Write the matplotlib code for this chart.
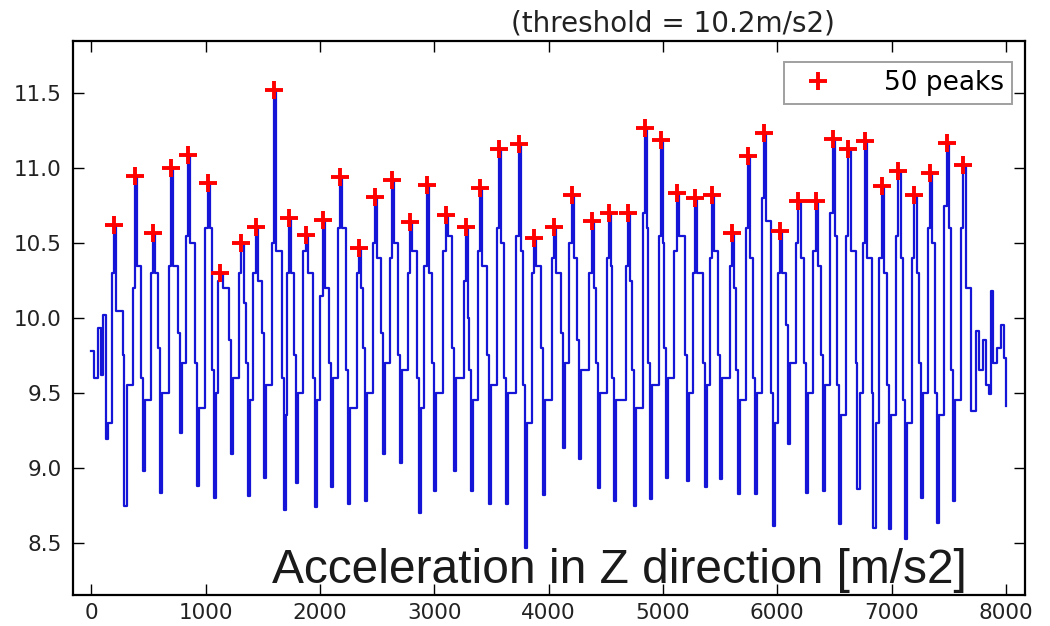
import numpy as np
import matplotlib
matplotlib.use("Agg")
import matplotlib.pyplot as plt

# detected peaks (sample index, m/s2)
peak_x = [199, 381, 541, 696, 847, 1017, 1130, 1314, 1439, 1597,
          1731, 1874, 2023, 2174, 2341, 2481, 2632, 2787, 2933, 3099,
          3277, 3399, 3568, 3738, 3871, 4046, 4201, 4376, 4528, 4696,
          4843, 4983, 5120, 5280, 5431, 5606, 5746, 5884, 6024, 6184,
          6336, 6485, 6621, 6767, 6913, 7059, 7199, 7336, 7482, 7627]
peak_y = [10.62, 10.95, 10.565, 11.00, 11.09, 10.90, 10.30, 10.50, 10.61, 11.52,
          10.67, 10.555, 10.655, 10.94, 10.47, 10.805, 10.92, 10.64, 10.885, 10.685,
          10.61, 10.87, 11.13, 11.16, 10.535, 10.61, 10.82, 10.645, 10.70, 10.70,
          11.27, 11.19, 10.835, 10.80, 10.82, 10.565, 11.085, 11.235, 10.58, 10.78,
          10.78, 11.195, 11.13, 11.18, 10.88, 10.98, 10.82, 10.97, 11.17, 11.02]

# level right after each peak
fall_y = [10.05, 10.35, 10.30, 10.35, 10.50, 10.60, 10.20, 10.10, 10.25, 10.45,
          10.30, 10.30, 10.20, 10.60, 10.20, 10.40, 10.50, 10.45, 10.30, 10.55,
          10.00, 10.35, 10.50, 10.45, 10.35, 10.30, 10.40, 10.20, 10.35, 10.25,
          10.60, 10.50, 10.55, 10.30, 10.45, 10.20, 10.40, 10.65, 10.30, 10.40,
          10.35, 10.55, 10.45, 10.40, 10.30, 10.40, 10.30, 10.50, 10.60, 10.20]

# second step on the way down, just before each minimum
mid_y = [9.75, 9.60, 9.80, 9.90, 9.70, 9.65, 9.85, 9.70, 9.90, 9.60,
         9.75, 9.60, 9.70, 9.65, 9.80, 9.90, 9.75, 9.60, 9.70, 9.80,
         9.65, 9.75, 9.60, 9.55, 9.80, 9.90, 9.85, 9.70, 9.60, 9.65,
         9.70, 9.80, 9.75, 9.70, 9.75, 9.65, 9.60, 9.50, 9.95, 9.70,
         9.75, 9.55, 9.70, 9.50, 9.55, 9.45, 9.70, 9.50, 9.65]

# minima between peaks (first one is before the first peak)
trough_x = [127, 290, 451, 597, 772, 923, 1072, 1218, 1369, 1509,
            1682, 1789, 1958, 2095, 2244, 2390, 2550, 2700, 2863, 2994,
            3169, 3320, 3480, 3627, 3793, 3947, 4122, 4262, 4429, 4574,
            4749, 4886, 5026, 5207, 5368, 5499, 5653, 5805, 5960, 6096,
            6251, 6397, 6540, 6700, 6840, 6977, 7117, 7255, 7395, 7537]
trough_y = [9.19, 8.745, 8.98, 8.83, 9.23, 8.88, 8.80, 9.09, 8.81, 8.93,
            8.72, 8.90, 8.74, 8.87, 8.76, 8.78, 9.09, 9.03, 8.70, 8.845,
            8.98, 8.845, 8.76, 8.76, 8.465, 8.82, 9.13, 9.06, 8.865, 8.78,
            8.745, 8.79, 8.93, 8.91, 8.87, 8.925, 8.825, 8.825, 8.61, 9.16,
            8.83, 8.845, 8.625, 8.86, 8.60, 8.59, 8.525, 8.80, 8.63, 8.78]

# plateaus on the way back up
rise_lo_y = [9.30, 9.55, 9.45, 9.50, 9.70, 9.40, 9.50, 9.60, 9.45, 9.55,
             9.35, 9.50, 9.45, 9.60, 9.40, 9.50, 9.70, 9.65, 9.40, 9.50,
             9.60, 9.45, 9.55, 9.50, 9.30, 9.45, 9.70, 9.65, 9.50, 9.45,
             9.40, 9.55, 9.60, 9.50, 9.55, 9.60, 9.45, 9.50, 9.30, 9.70,
             9.50, 9.55, 9.35, 9.50, 9.30, 9.35, 9.30, 9.50, 9.35, 9.45]
rise_hi_y = [10.30, 10.20, 10.30, 10.35, 10.55, 10.60, 10.25, 10.30, 10.30, 10.50,
             10.30, 10.45, 10.15, 10.60, 10.30, 10.50, 10.40, 10.30, 10.35, 10.45,
             10.25, 10.45, 10.60, 10.55, 10.30, 10.40, 10.50, 10.30, 10.40, 10.35,
             10.70, 10.55, 10.45, 10.30, 10.40, 10.35, 10.60, 10.80, 10.30, 10.50,
             10.45, 10.70, 10.55, 10.50, 10.40, 10.55, 10.40, 10.60, 10.75, 10.60]

# start and end of the recording (no peaks there)
head_x = [0, 25, 55, 85, 105]
head_y = [9.78, 9.60, 9.93, 9.62, 10.02]
tail_x = [7695, 7736, 7765, 7800, 7830, 7852, 7867, 7890, 7920, 7957, 7985, 8000]
tail_y = [9.38, 9.91, 9.65, 9.85, 9.55, 9.49, 10.18, 9.70, 9.80, 9.95, 9.73, 9.41]

# sample lags of the plateaus relative to the peaks / minima
fall_lag, mid_lead, lo_lag, hi_lead = 20, 15, 20, 20

xs = list(head_x) + list(tail_x)
ys = list(head_y) + list(tail_y)
for px, py, fy, hy in zip(peak_x, peak_y, fall_y, rise_hi_y):
    xs += [px, px + fall_lag, px - hi_lead]
    ys += [py, fy, hy]
for tx, ty, ly in zip(trough_x, trough_y, rise_lo_y):
    xs += [tx, tx + lo_lag]
    ys += [ty, ly]
for tx, my in zip(trough_x[1:], mid_y):
    xs.append(tx - mid_lead)
    ys.append(my)
order = np.argsort(xs, kind="stable")
sig_x = np.array(xs)[order]
sig_y = np.array(ys)[order]

fig = plt.figure(figsize=(10.5, 6.26), dpi=100)
ax = fig.add_axes([0.0695, 0.0495, 0.907, 0.885])

ax.plot(sig_x, sig_y, color="#1515d8", lw=1.6, drawstyle="steps-post")
ax.plot(peak_x, peak_y, "+", color="red", ms=13, mew=2.8, label="%d peaks" % len(peak_x))

ax.set_xlim(-160, 8170)
ax.set_ylim(8.15, 11.85)
ax.set_xticks([0, 1000, 2000, 3000, 4000, 5000, 6000, 7000, 8000])
ax.set_yticks([8.5, 9.0, 9.5, 10.0, 10.5, 11.0, 11.5])
ax.tick_params(direction="in", length=8, width=1, top=True, right=True,
               labelsize=15.5, labelcolor="#222222")
ax.tick_params(axis="x", pad=6)
ax.tick_params(axis="y", pad=8)
for s in ax.spines.values():
    s.set_linewidth(1.6)

leg = ax.legend(loc="upper right", bbox_to_anchor=(0.986, 0.962), numpoints=1,
                fontsize=19, fancybox=False, borderaxespad=0, handletextpad=1.5,
                borderpad=0.3)
leg.get_frame().set_edgecolor("#888888")
leg.get_frame().set_linewidth(1.4)

fig.text(0.641, 0.963, "(threshold = 10.2m/s2)", ha="center", va="center",
         fontsize=20, color="#222222")
fig.text(0.259, 0.069, "Acceleration in Z direction [m/s2]", ha="left", va="baseline",
         fontsize=34.5, family="Liberation Sans", color="#1a1a1a")

fig.savefig("out.png", dpi=100)
